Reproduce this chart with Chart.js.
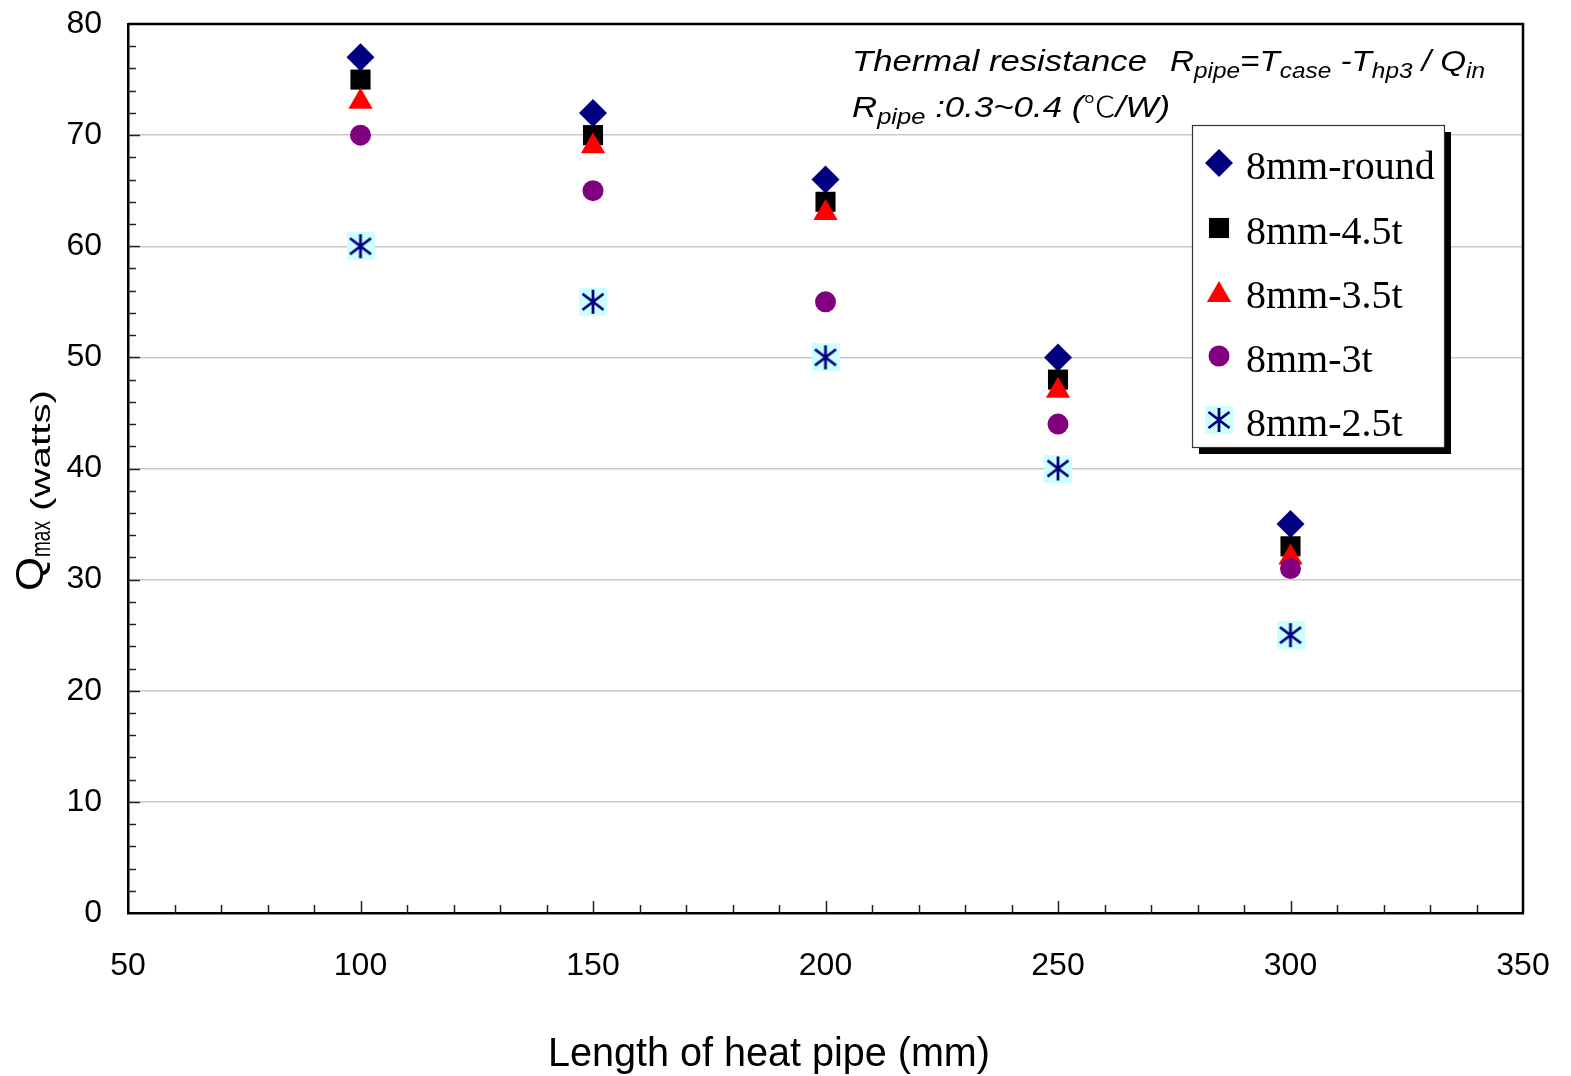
<!DOCTYPE html>
<html><head><meta charset="utf-8">
<script src="https://cdn.jsdelivr.net/npm/chart.js@4.4.1/dist/chart.umd.min.js"></script>
<style>html,body{margin:0;padding:0;background:#fff;}canvas{display:block;}</style>
</head><body>
<canvas id="c" width="1571" height="1076"></canvas>
<script>
// ---- data ----
const lengths = [100, 150, 200, 250, 300];
const round8 = [77, 72, 66, 50, 35];
const t45 = [75, 70, 64, 48, 33];
const t35 = [73, 69, 63, 47, 32];
const t3 = [70, 65, 55, 44, 31];
const t25 = [60, 55, 50, 40, 25];
const seriesNames = ['8mm-round', '8mm-4.5t', '8mm-3.5t', '8mm-3t', '8mm-2.5t'];
const xTitle = 'Length of heat pipe (mm)';

function makeAsterisk() {
  const c = document.createElement('canvas');
  c.width = 28; c.height = 28;
  const g = c.getContext('2d');
  g.fillStyle = '#ccffff'; g.fillRect(0, 0, 28, 28);
  g.strokeStyle = '#000080'; g.lineWidth = 2.8; g.lineCap = 'butt';
  g.beginPath();
  g.moveTo(14, 2); g.lineTo(14, 26);
  g.moveTo(3.5, 6); g.lineTo(24.5, 22);
  g.moveTo(3.5, 22); g.lineTo(24.5, 6);
  g.stroke();
  return c;
}
const asterisk = makeAsterisk();

const pts = arr => lengths.map((x, i) => ({ x: x, y: arr[i] }));
const styles = [
  { style: 'rectRot', r: 14, color: '#000080' },
  { style: 'rect', r: 14.2, color: '#000000' },
  { style: 'triangle', r: 14, color: '#ff0000' },
  { style: 'circle', r: 10.5, color: '#800080' },
  { style: asterisk, r: 14, color: '#000080' }
];
const values = [round8, t45, t35, t3, t25];
const datasets = values.map((v, i) => ({
  label: seriesNames[i],
  data: pts(v),
  pointStyle: styles[i].style,
  pointRadius: styles[i].r,
  pointBackgroundColor: styles[i].color,
  pointBorderColor: styles[i].color,
  pointBorderWidth: 0,
  showLine: false,
  order: 5 - i
}));

function fitText(ctx, segs, x, y, targetW) {
  let w = 0;
  segs.forEach(s => { ctx.font = s.font; s.w = ctx.measureText(s.t).width; w += s.w; });
  const sx = targetW / w;
  ctx.save();
  ctx.translate(x, y);
  ctx.scale(sx, 1);
  let cx = 0;
  segs.forEach(s => { ctx.font = s.font; ctx.fillText(s.t, cx, s.dy || 0); cx += s.w; });
  ctx.restore();
}

const decor = {
  id: 'decor',
  beforeDatasetsDraw(chart) {
    const ctx = chart.ctx, a = chart.chartArea;
    const xs = chart.scales.x, ys = chart.scales.y;
    ctx.save();
    ctx.strokeStyle = '#222';
    ctx.lineWidth = 1.5;
    ctx.beginPath();
    for (let v = 60; v < 350; v += 10) {
      const px = Math.round(xs.getPixelForValue(v)) + 0.5;
      const len = (v % 50 === 0) ? 12 : 8;
      ctx.moveTo(px, a.bottom); ctx.lineTo(px, a.bottom - len);
    }
    for (let v = 2; v < 80; v += 2) {
      const py = Math.round(ys.getPixelForValue(v)) + 0.5;
      const len = (v % 10 === 0) ? 12 : 8;
      ctx.moveTo(a.left, py); ctx.lineTo(a.left + len, py);
    }
    ctx.stroke();
    ctx.strokeStyle = '#000';
    ctx.lineWidth = 2.5;
    ctx.beginPath();
    ctx.moveTo(a.left, a.top); ctx.lineTo(a.right, a.top); ctx.lineTo(a.right, a.bottom);
    ctx.stroke();
    ctx.restore();
  },
  afterDraw(chart) {
    const ctx = chart.ctx;
    ctx.save();
    ctx.fillStyle = '#000';
    ctx.textBaseline = 'alphabetic';
    ctx.textAlign = 'left';

    // annotation text
    const N = 'italic 30px "Liberation Sans", Arial, sans-serif';
    const S = 'italic 22px "Liberation Sans", Arial, sans-serif';
    fitText(ctx, [{ t: 'Thermal resistance', font: N }], 852, 71, 295);
    fitText(ctx, [
      { t: 'R', font: N },
      { t: 'pipe', font: S, dy: 7 },
      { t: '=T', font: N },
      { t: 'case', font: S, dy: 7 },
      { t: ' -T', font: N },
      { t: 'hp3', font: S, dy: 7 },
      { t: ' / Q', font: N },
      { t: 'in', font: S, dy: 7 }
    ], 1170, 71, 315);
    fitText(ctx, [
      { t: 'R', font: N },
      { t: 'pipe', font: S, dy: 7 },
      { t: ' :0.3~0.4 (', font: N },
      { t: '\u2103', font: '300 28px "Noto Sans CJK TC", sans-serif' },
      { t: '/W)', font: N }
    ], 852, 117, 318);

    // x title
    fitText(ctx, [{ t: xTitle, font: '41px "Liberation Sans", Arial, sans-serif' }], 548, 1066, 442);

    // y title (rotated)
    ctx.save();
    ctx.rotate(-Math.PI / 2);
    fitText(ctx, [{ t: 'Q', font: '39px "Liberation Sans", Arial, sans-serif' }], -591, 43, 34);
    fitText(ctx, [{ t: 'max', font: '28px "Liberation Sans", Arial, sans-serif' }], -557, 50, 36);
    fitText(ctx, [{ t: '(watts)', font: '27px "Liberation Sans", Arial, sans-serif' }], -511, 50, 121);
    ctx.restore();

    // legend box
    const bx = 1192, by = 125, bw = 252, bh = 322;
    ctx.fillStyle = '#000';
    ctx.fillRect(bx + 7, by + 7, bw, bh);
    ctx.fillStyle = '#fff';
    ctx.fillRect(bx, by, bw, bh);
    ctx.strokeStyle = '#333';
    ctx.lineWidth = 1.2;
    ctx.strokeRect(bx + 0.5, by + 0.5, bw, bh);
    const rowY = [163, 228, 292, 356, 420];
    chart.data.datasets.forEach((ds, i) => {
      const my = rowY[i];
      ctx.fillStyle = ds.pointBackgroundColor;
      ctx.strokeStyle = ds.pointBorderColor;
      Chart.helpers.drawPoint(ctx, {
        pointStyle: ds.pointStyle, radius: ds.pointRadius, rotation: 0, borderWidth: 0
      }, 1219, i === 2 ? my + 3 : my);
      ctx.fillStyle = '#000';
      ctx.font = '40px "Liberation Serif", "Times New Roman", serif';
      ctx.fillText(ds.label, 1246, my + 16);
    });
    ctx.restore();
  }
};

const tickFont = { family: '"Liberation Sans", Arial, sans-serif', size: 32 };

new Chart(document.getElementById('c'), {
  type: 'scatter',
  data: { datasets: datasets },
  options: {
    responsive: false,
    animation: false,
    devicePixelRatio: 1,
    events: [],
    layout: { padding: { left: 0, right: 48, top: 24, bottom: 0 } },
    plugins: { legend: { display: false }, tooltip: { enabled: false } },
    scales: {
      x: {
        type: 'linear', min: 50, max: 350,
        ticks: { stepSize: 50, font: tickFont, color: '#000', padding: 34, maxRotation: 0 },
        grid: { display: false, drawTicks: false },
        border: { display: true, color: '#000', width: 2.5 },
        afterFit: s => { s.height = 163; s.paddingLeft = 0; s.paddingRight = 0; s.paddingTop = 0; s.paddingBottom = 0; }
      },
      y: {
        min: 0, max: 80,
        ticks: { stepSize: 10, font: tickFont, color: '#000', padding: 26 },
        grid: { color: '#c8c8c8', lineWidth: 1.5, drawTicks: false },
        border: { display: true, color: '#000', width: 2.5 },
        afterFit: s => { s.width = 128; s.paddingLeft = 0; s.paddingRight = 0; s.paddingTop = 0; s.paddingBottom = 0; }
      }
    }
  },
  plugins: [decor]
});
</script>
</body></html>
